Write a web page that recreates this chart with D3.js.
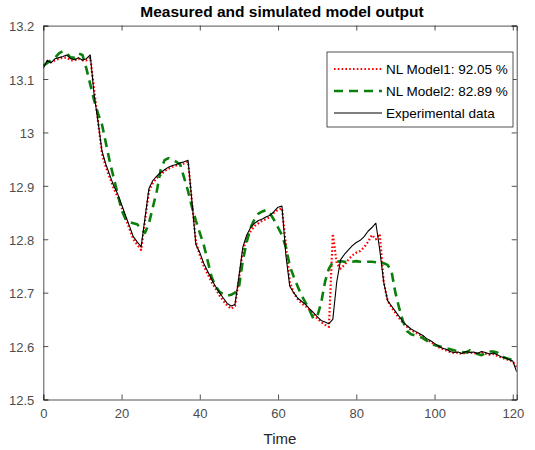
<!DOCTYPE html>
<html>
<head>
<meta charset="utf-8">
<script src="https://cdn.jsdelivr.net/npm/d3@7"></script>
<style>
  body { margin: 0; background: #fff; }
  text { font-family: "Liberation Sans", Arial, sans-serif; }
</style>
</head>
<body>
<div id="chart"></div>
<script>
// time axis: one sample per second, 0..121
const time = d3.range(0, 122);

// Experimental data (black)
const expData = [
  13.120, 13.135, 13.130, 13.138, 13.140, 13.142, 13.145, 13.138, 13.136, 13.140,
  13.135, 13.138, 13.145, 13.070, 13.020, 12.965, 12.940, 12.920, 12.900, 12.885,
  12.865, 12.845, 12.825, 12.805, 12.795, 12.786, 12.840, 12.895, 12.910, 12.918,
  12.925, 12.930, 12.935, 12.938, 12.940, 12.943, 12.945, 12.948, 12.870, 12.790,
  12.775, 12.755, 12.740, 12.725, 12.712, 12.700, 12.690, 12.680, 12.675, 12.678,
  12.730, 12.785, 12.808, 12.822, 12.830, 12.835, 12.838, 12.842, 12.845, 12.852,
  12.860, 12.862, 12.770, 12.712, 12.700, 12.690, 12.684, 12.678, 12.670, 12.663,
  12.655, 12.648, 12.645, 12.642, 12.650, 12.720, 12.762, 12.772, 12.780, 12.788,
  12.794, 12.798, 12.805, 12.815, 12.822, 12.830, 12.780, 12.720, 12.685, 12.675,
  12.665, 12.655, 12.645, 12.638, 12.632, 12.628, 12.624, 12.620, 12.614, 12.610,
  12.605, 12.600, 12.596, 12.594, 12.590, 12.588, 12.589, 12.586, 12.590, 12.588,
  12.589, 12.586, 12.590, 12.588, 12.585, 12.587, 12.584, 12.580, 12.578, 12.575,
  12.572, 12.552
];

// NL Model1 (red dotted)
const model1 = [
  13.125, 13.130, 13.132, 13.135, 13.138, 13.140, 13.140, 13.135, 13.135, 13.138,
  13.135, 13.135, 13.140, 13.080, 13.020, 12.960, 12.935, 12.915, 12.895, 12.880,
  12.860, 12.840, 12.820, 12.800, 12.790, 12.780, 12.835, 12.890, 12.905, 12.915,
  12.920, 12.928, 12.932, 12.936, 12.938, 12.940, 12.942, 12.945, 12.870, 12.795,
  12.770, 12.750, 12.735, 12.720, 12.708, 12.695, 12.685, 12.676, 12.670, 12.675,
  12.725, 12.780, 12.800, 12.815, 12.825, 12.830, 12.835, 12.838, 12.842, 12.850,
  12.855, 12.858, 12.790, 12.720, 12.700, 12.688, 12.680, 12.675, 12.668, 12.660,
  12.652, 12.645, 12.640, 12.636, 12.810, 12.755, 12.745, 12.752, 12.762, 12.770,
  12.775, 12.778, 12.785, 12.795, 12.808, 12.800, 12.810, 12.720, 12.685, 12.672,
  12.662, 12.652, 12.643, 12.636, 12.630, 12.626, 12.622, 12.618, 12.612, 12.608,
  12.603, 12.598, 12.595, 12.592, 12.589, 12.587, 12.588, 12.585, 12.588, 12.587,
  12.588, 12.585, 12.588, 12.586, 12.584, 12.585, 12.582, 12.579, 12.576, 12.574,
  12.571, 12.560
];

// NL Model2 (green dashed)
const model2 = [
  13.125, 13.130, 13.135, 13.140, 13.148, 13.152, 13.148, 13.140, 13.140, 13.148,
  13.145, 13.120, 13.090, 13.060, 13.035, 13.015, 12.980, 12.945, 12.915, 12.885,
  12.855, 12.838, 12.832, 12.830, 12.828, 12.820, 12.812, 12.830, 12.860, 12.890,
  12.930, 12.948, 12.952, 12.948, 12.945, 12.940, 12.915, 12.890, 12.860, 12.835,
  12.812, 12.790, 12.760, 12.730, 12.712, 12.702, 12.697, 12.694, 12.696, 12.700,
  12.710, 12.760, 12.795, 12.822, 12.838, 12.848, 12.852, 12.855, 12.848, 12.836,
  12.822, 12.808, 12.785, 12.750, 12.730, 12.712, 12.695, 12.682, 12.668, 12.652,
  12.655, 12.680, 12.720, 12.745, 12.757, 12.758, 12.759, 12.758, 12.757, 12.758,
  12.759, 12.758, 12.757, 12.758, 12.758, 12.757, 12.756, 12.755, 12.752, 12.740,
  12.700, 12.670, 12.645, 12.628, 12.622, 12.620, 12.618, 12.615, 12.610, 12.605,
  12.602, 12.600, 12.598, 12.596, 12.594, 12.592, 12.590, 12.589, 12.588, 12.592,
  12.590, 12.585, 12.583, 12.586, 12.590, 12.590, 12.588, 12.582, 12.578, 12.576,
  12.574, 12.570
];

const xTicks = [0, 20, 40, 60, 80, 100, 120];
const yTicks = [12.5, 12.6, 12.7, 12.8, 12.9, 13, 13.1, 13.2];

const series = [
  { name: "NL Model1: 92.05 %", values: model1, color: "#ff0000", width: 2.2, dash: "1.6,2.2" },
  { name: "NL Model2: 82.89 %", values: model2, color: "#0a800a", width: 2.6, dash: "9,6" },
  { name: "Experimental data", values: expData, color: "#000000", width: 1.1, dash: null }
];

const width = 535, height = 450;
const margin = { left: 43.3, right: 535 - 516.7, top: 25.6, bottom: 450 - 399.5 };
const axisColor = "#262626";

const svg = d3.select("#chart").append("svg")
  .attr("width", width)
  .attr("height", height);

const x = d3.scaleLinear().domain([0, 121]).range([margin.left, width - margin.right]);
const y = d3.scaleLinear().domain([12.5, 13.2]).range([height - margin.bottom, margin.top]);

// lines
const line = d3.line()
  .x((d, i) => x(time[i]))
  .y(d => y(d));

const plot = svg.append("g");
plot.append("defs").append("clipPath").attr("id", "clip")
  .append("rect")
  .attr("x", x(0)).attr("y", y(13.2))
  .attr("width", x(121) - x(0)).attr("height", y(12.5) - y(13.2));

plot.append("g").attr("clip-path", "url(#clip)")
  .selectAll("path")
  .data(series)
  .join("path")
  .attr("d", d => line(d.values))
  .attr("fill", "none")
  .attr("stroke", d => d.color)
  .attr("stroke-width", d => d.width)
  .attr("stroke-dasharray", d => d.dash)
  .attr("stroke-linejoin", "round");

// axes (ticks inside, box on)
const tickLen = 5;
const bottomAxis = d3.axisBottom(x).tickValues(xTicks).tickSize(-tickLen).tickPadding(9)
  .tickFormat(d3.format("d"));
const topAxis = d3.axisTop(x).tickValues(xTicks).tickSize(-tickLen).tickFormat("");
const leftAxis = d3.axisLeft(y).tickValues(yTicks).tickSize(-tickLen).tickPadding(9)
  .tickFormat(d => d3.format("")(+d.toFixed(1)));
const rightAxis = d3.axisRight(y).tickValues(yTicks).tickSize(-tickLen).tickFormat("");

function styleAxis(g) {
  g.select(".domain").attr("stroke", axisColor).attr("stroke-width", 0.8);
  g.selectAll(".tick line").attr("stroke", axisColor).attr("stroke-width", 0.8);
  g.selectAll(".tick text")
    .attr("fill", "#4d4d4d")
    .style("font-size", "13px")
    .style("font-family", "'Liberation Sans', Arial, sans-serif");
}

svg.append("g").attr("transform", `translate(0,${y(12.5)})`).call(bottomAxis).call(styleAxis);
svg.append("g").attr("transform", `translate(0,${y(13.2)})`).call(topAxis).call(styleAxis);
svg.append("g").attr("transform", `translate(${x(0)},0)`).call(leftAxis).call(styleAxis)
  .selectAll(".tick text").attr("dy", "0.4em");
svg.append("g").attr("transform", `translate(${x(121)},0)`).call(rightAxis).call(styleAxis);

// title and axis label
svg.append("text")
  .attr("x", (x(0) + x(121)) / 2 + 2)
  .attr("y", 17)
  .attr("text-anchor", "middle")
  .style("font-size", "15.5px")
  .style("font-weight", "bold")
  .attr("fill", "#000")
  .text("Measured and simulated model output");

svg.append("text")
  .attr("x", (x(0) + x(121)) / 2)
  .attr("y", 444)
  .attr("text-anchor", "middle")
  .style("font-size", "15px")
  .attr("fill", "#262626")
  .text("Time");

// legend
const legend = svg.append("g").attr("transform", "translate(327,52)");
legend.append("rect")
  .attr("width", 186).attr("height", 75)
  .attr("fill", "#fff")
  .attr("stroke", axisColor)
  .attr("stroke-width", 0.8);

const rows = legend.selectAll("g.row")
  .data(series)
  .join("g")
  .attr("class", "row")
  .attr("transform", (d, i) => `translate(0,${17 + i * 22})`);

rows.append("line")
  .attr("x1", 7).attr("x2", 55)
  .attr("stroke", d => d.color)
  .attr("stroke-width", d => d.width)
  .attr("stroke-dasharray", d => d.dash);

rows.append("text")
  .attr("x", 59)
  .attr("dy", "0.35em")
  .style("font-size", "13.5px")
  .attr("fill", "#000")
  .text(d => d.name);
</script>
</body>
</html>
